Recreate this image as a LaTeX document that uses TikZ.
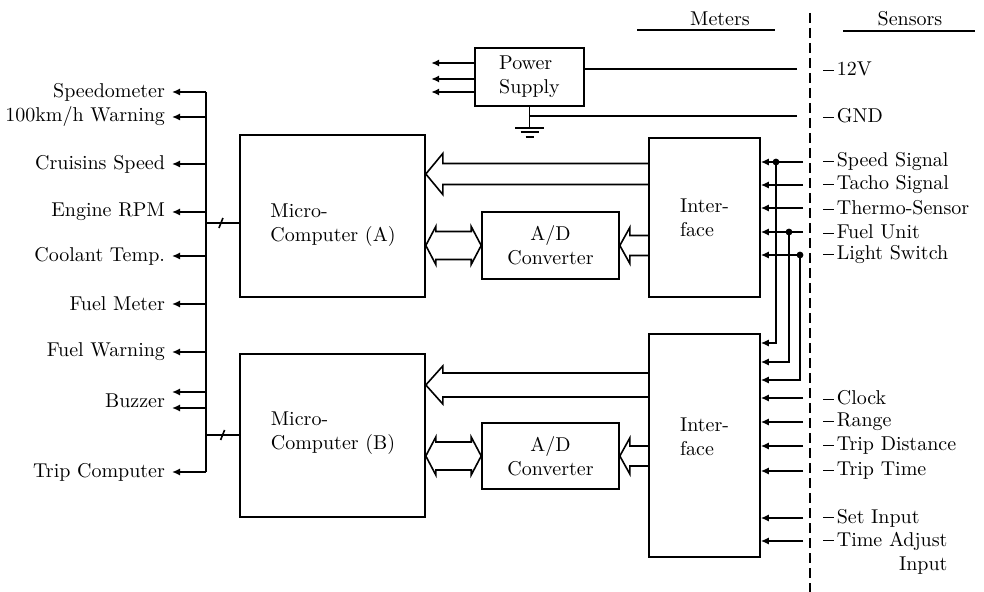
\documentclass[tikz,border=0pt]{standalone}
\usetikzlibrary{arrows.meta,calc}

% hollow bus arrow pointing left: tip, tail, head length, head half width, shaft half width
\newcommand\fatarrow[5]{%
  \draw[bigarrow] let \p1=(#1), \p2=(#2) in
    (\x2,\y1+#5) -- (\x1+#3,\y1+#5) -- (\x1+#3,\y1+#4) -- (\x1,\y1)
    -- (\x1+#3,\y1-#4) -- (\x1+#3,\y1-#5) -- (\x2,\y1-#5);}
% hollow bus arrow with two heads
\newcommand\twinarrow[2]{%
  \draw[bigarrow] let \p1=(#1), \p2=(#2) in
    (\x1,\y2) -- (\x1+5pt,\y2+9.5pt) -- (\x1+5pt,\y2+7pt) -- (\x2-5pt,\y2+7pt)
    -- (\x2-5pt,\y2+9.5pt) -- (\x2,\y2) -- (\x2-5pt,\y2-9.5pt) -- (\x2-5pt,\y2-7pt)
    -- (\x1+5pt,\y2-7pt) -- (\x1+5pt,\y2-9.5pt) -- cycle;}
\newcommand\lead{\rule[0.55ex]{5.5pt}{0.5pt}\kern1.2pt}

\begin{document}
\begin{tikzpicture}[x=0.5pt,y=-0.5pt,
  block/.style={draw,line width=0.8pt,inner sep=0pt},
  wire/.style={line width=0.8pt},
  feed/.style={wire,-{Latex[length=4pt,width=3.6pt]}},
  bigarrow/.style={line width=0.8pt,line join=miter},
  junction/.style={fill,circle,inner sep=1.2pt},
  outlabel/.style={anchor=east},
  sensor/.style={anchor=west,inner xsep=10pt,inner ysep=2pt},
  divider/.style={line width=0.8pt,dash pattern=on 5pt off 2.5pt}]
\useasboundingbox (0,0) rectangle (984,592);

% blocks
\node[block,minimum width=92.5pt,minimum height=81pt] (mcA) at (332.5,216) {};
\node[align=left] (mcAtxt) at (333,225) {Micro-\\Computer (A)};
\node[block,minimum width=92.5pt,minimum height=81.5pt] (mcB) at (332.5,435.5) {};
\node[align=left] (mcBtxt) at (333,433) {Micro-\\Computer (B)};
\node[block,minimum width=54.5pt,minimum height=29pt,align=left] (ps) at (529.5,77) {Power\\Supply};
\node[block,minimum width=55.5pt,minimum height=79.5pt,align=left] (ifA) at (704.5,217.5) {Inter-\\face};
\node[block,minimum width=55.5pt,minimum height=111.5pt] (ifB) at (704.5,445.5) {};
\node[align=left] (ifBtxt) at (704.5,437) {Inter-\\face};
\node[block,minimum width=68.5pt,minimum height=33.5pt,align=center] (adA) at (550.5,245.5) {A/D\\Converter};
\node[block,minimum width=68.5pt,minimum height=33pt,align=center] (adB) at (550.5,456) {A/D\\Converter};

% headings
\node (meters) at (720,19) {Meters};
\draw[wire] (637,30) -- (775,30);
\node (sensors) at (910,19) {Sensors};
\draw[wire] (843,31) -- (975,31);
\draw[divider] (810,13) -- (810,592);

% meter outputs
\coordinate (busT) at (206,92);
\coordinate (busB) at (206,472);
\draw[wire] (busT) -- (busB);
\node[outlabel] (speedo) at (172,92) {Speedometer};
\node[outlabel] (warn) at (172,117) {100km/h Warning};
\node[outlabel] (cruise) at (172,164) {Cruisins Speed};
\node[outlabel] (rpm) at (172,212) {Engine RPM};
\node[outlabel] (cool) at (172,256) {Coolant Temp.};
\node[outlabel] (fuelm) at (172,304) {Fuel Meter};
\node[outlabel] (fuelw) at (172,352) {Fuel Warning};
\node[outlabel] (buzz) at (172,401) {Buzzer};
\node[outlabel] (trip) at (172,472) {Trip Computer};
\draw[feed] (busT |- speedo.east) -- (speedo.east);
\draw[feed] (busT |- warn.east) -- (warn.east);
\draw[feed] (busT |- cruise.east) -- (cruise.east);
\draw[feed] (busT |- rpm.east) -- (rpm.east);
\draw[feed] (busT |- cool.east) -- (cool.east);
\draw[feed] (busT |- fuelm.east) -- (fuelm.east);
\draw[feed] (busT |- fuelw.east) -- (fuelw.east);
\draw[feed] (busT |- 0,392) -- (buzz.east |- 0,392);
\draw[feed] (busT |- 0,408) -- (buzz.east |- 0,408);
\draw[feed] (busT |- trip.east) -- (trip.east);

% bus to micro-computers
\draw[wire] (busT |- 0,223) -- coordinate[pos=0.45] (tA) (mcA.west |- 0,223);
\draw[wire] (tA) ++(-2,5) -- ++(4,-10);
\draw[wire] (busT |- 0,435) -- coordinate[pos=0.5] (tB) (mcB.west |- 0,435);
\draw[wire] (tB) ++(-2,5) -- ++(4,-10);

% power supply
\foreach \y in {63,79,92}
  \draw[feed] (ps.west |- 0,\y) -- ++(-43,0);
\node[sensor] (v12) at (803,69) {\lead 12V};
\node[sensor] (gnd) at (803,116) {\lead GND};
\draw[wire] ([xshift=-3pt]v12.west) -- (ps.east |- v12.west);
\draw[wire] (ps.south) -- ++(0,21) coordinate (earth);
\draw[wire] ([xshift=-3pt]gnd.west) -- (ps.south |- gnd.west);
\draw[wire] (earth) +(-14.5,0) -- +(14.5,0) +(-9,4.5) -- +(9,4.5) +(-4,9) -- +(4,9);

% wide buses
\fatarrow{mcA.east |- 0,174}{ifA.west}{8.5pt}{10.25pt}{5.25pt}
\fatarrow{adA.east}{ifA.west}{5pt}{9pt}{5pt}
\twinarrow{mcA.east}{adA.west}
\fatarrow{mcB.east |- 0,385}{ifB.west}{8.5pt}{9.5pt}{6pt}
\fatarrow{adB.east}{ifB.west}{5pt}{9pt}{5pt}
\twinarrow{mcB.east}{adB.west}

% sensors to interface A
\node[sensor] (spd) at (803,162) {\lead Speed Signal};
\node[sensor] (tacho) at (803,185) {\lead Tacho Signal};
\node[sensor] (thermo) at (803,208) {\lead Thermo-Sensor};
\node[sensor] (fuelu) at (803,232) {\lead Fuel Unit};
\node[sensor] (light) at (803,255) {\lead Light Switch};
\draw[feed] (spd.west) -- (ifA.east |- spd.west);
\draw[feed] (tacho.west) -- (ifA.east |- tacho.west);
\draw[feed] (thermo.west) -- (ifA.east |- thermo.west);
\draw[feed] (fuelu.west) -- (ifA.east |- fuelu.west);
\draw[feed] (light.west) -- (ifA.east |- light.west);

% shared signals to interface B
\node[junction] (j1) at (776,0 |- spd.west) {};
\node[junction] (j2) at (789,0 |- fuelu.west) {};
\node[junction] (j3) at (800,0 |- light.west) {};
\draw[feed] (j1.center) -- (j1 |- 0,343) -- (ifB.east |- 0,343);
\draw[feed] (j2.center) -- (j2 |- 0,362) -- (ifB.east |- 0,362);
\draw[feed] (j3.center) -- (j3 |- 0,380) -- (ifB.east |- 0,380);

% sensors to interface B
\node[sensor] (clock) at (803,398) {\lead Clock};
\node[sensor] (range) at (803,422) {\lead Range};
\node[sensor] (tdist) at (803,446) {\lead Trip Distance};
\node[sensor] (ttime) at (803,471) {\lead Trip Time};
\node[sensor] (setin) at (803,518) {\lead Set Input};
\node[sensor] (tadj) at (803,541) {\lead Time Adjust};
\node[anchor=north east,inner xsep=10pt,inner ysep=1pt] (tadj2) at (tadj.south east) {Input};
\draw[feed] (clock.west) -- (ifB.east |- clock.west);
\draw[feed] (range.west) -- (ifB.east |- range.west);
\draw[feed] (tdist.west) -- (ifB.east |- tdist.west);
\draw[feed] (ttime.west) -- (ifB.east |- ttime.west);
\draw[feed] (setin.west) -- (ifB.east |- setin.west);
\draw[feed] (tadj.west) -- (ifB.east |- tadj.west);
\end{tikzpicture}
\end{document}
